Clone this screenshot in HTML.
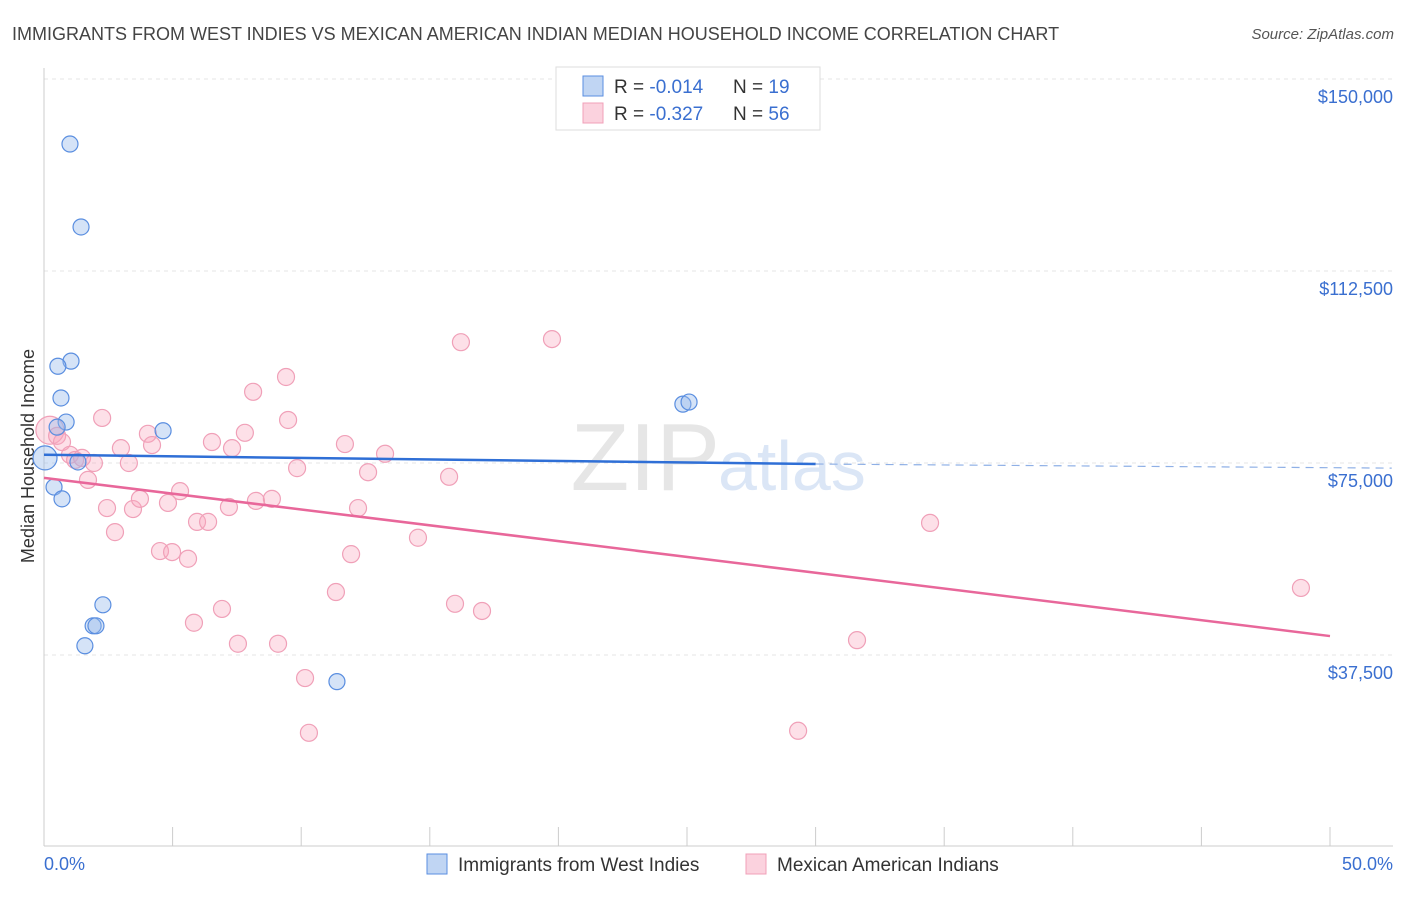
<!DOCTYPE html>
<html><head><meta charset="utf-8"><style>
body{margin:0;background:#fff;font-family:"Liberation Sans",sans-serif}
svg text{font-family:"Liberation Sans",sans-serif}
</style></head><body>
<svg id="c" width="1406" height="892"></svg>
<script>
const blueX=[1.01,1.44,1.05,0.54,0.66,0.86,0.51,4.63,1.32,0.04,0.39,0.70,2.29,1.91,2.02,1.59,11.39,24.84,25.08];
const blueY=[137.3,121.1,94.9,93.9,87.7,83.0,82.0,81.3,75.2,76.0,70.3,68.0,47.3,43.2,43.2,39.3,32.3,86.5,86.9];
const pinkX=[0.23,0.51,0.70,1.01,1.21,1.48,1.94,1.71,2.26,2.99,3.30,2.45,2.76,3.46,3.73,4.04,4.20,4.51,4.98,4.82,5.29,5.60,5.95,6.38,6.53,7.19,7.31,7.81,8.13,8.24,8.86,9.41,9.49,9.84,5.83,6.92,7.54,9.10,10.15,10.30,11.35,11.70,11.94,12.21,12.60,13.26,14.54,15.75,15.98,16.21,17.03,19.75,29.32,31.61,34.45,48.87];
const pinkY=[81.4,80.3,79.1,76.6,75.6,76.0,75.0,71.7,83.8,77.9,75.0,66.2,61.5,66.0,68.0,80.7,78.5,57.8,57.6,67.2,69.5,56.3,63.5,63.5,79.1,66.4,77.9,80.9,88.9,67.6,68.0,91.8,83.4,74.0,43.8,46.5,39.7,39.7,33.0,22.3,49.8,78.7,57.2,66.2,73.2,76.8,60.4,72.3,47.5,98.6,46.1,99.2,22.7,40.4,63.3,50.6];
const yTicks=[150000,112500,75000,37500];
const yTickLabels=["$150,000","$112,500","$75,000","$37,500"];
const blueTrend=[76.6,74.8,74.0]; // at 0, 30, 52.4 %
const pinkTrend=[72.1,41.2]; // at 0, 50 %
const NS="http://www.w3.org/2000/svg";
const svg=document.getElementById('c');
const X=p=>44+p*25.72;
const Y=k=>79+(150-k)/37.5*192;
function el(t,a,p){const e=document.createElementNS(NS,t);for(const k in a)e.setAttribute(k,a[k]);(p||svg).appendChild(e);return e;}
let t=el('text',{x:12,y:40,'font-size':18,fill:'#444'});t.textContent="IMMIGRANTS FROM WEST INDIES VS MEXICAN AMERICAN INDIAN MEDIAN HOUSEHOLD INCOME CORRELATION CHART";

t=el('text',{x:1394,y:39,'font-size':15,fill:'#555','text-anchor':'end','font-style':'italic'});t.textContent="Source: ZipAtlas.com";

yTicks.forEach((v,i)=>{const y=Y(v/1000);
 const g=el('line',{x1:44,x2:1393,y1:y,y2:y,stroke:'#e4e4e4','stroke-dasharray':'4,4'});
 
 const l=el('text',{x:1393,y:y+24,'font-size':18,fill:'#3a6fd0','text-anchor':'end'});l.textContent=yTickLabels[i];
 });
let a=el('line',{x1:44,x2:44,y1:68,y2:846,stroke:'#ccc'});
a=el('line',{x1:44,x2:1393,y1:846,y2:846,stroke:'#ccc'});
for(let i=0;i<=10;i++){const k=el('line',{x1:X(i*5),x2:X(i*5),y1:827,y2:846,stroke:'#ccc'});}
t=el('text',{x:44,y:870,'font-size':18,fill:'#3a6fd0'});t.textContent="0.0%";
t=el('text',{x:1393,y:870,'font-size':18,fill:'#3a6fd0','text-anchor':'end'});t.textContent="50.0%";
t=el('text',{x:34,y:456,'font-size':18,fill:'#333','text-anchor':'middle',transform:'rotate(-90 34 456)'});t.textContent="Median Household Income";
t=el('text',{x:720,y:490,'font-size':96,fill:'#e6e6e6','text-anchor':'end','font-family':'Liberation Serif'});t.textContent="ZIP";
t=el('text',{x:718,y:490,'font-size':70,fill:'#dbe6f6'});t.textContent="atlas";
pinkX.forEach((x,i)=>{const c=el('circle',{cx:X(x),cy:Y(pinkY[i]),r:i==0?14:8.5,fill:'rgba(248,165,190,0.35)',stroke:'#f0a0b8','stroke-width':1.2});
 });
blueX.forEach((x,i)=>{const c=el('circle',{cx:X(x),cy:Y(blueY[i]),r:i==9?12:8,fill:'rgba(150,185,235,0.4)',stroke:'#5a8ee0','stroke-width':1.2});
 });
let l=el('line',{x1:X(0),y1:Y(blueTrend[0]),x2:X(30),y2:Y(blueTrend[1]),stroke:'#2f6fd6','stroke-width':2.5});
l=el('line',{x1:X(30),y1:Y(blueTrend[1]),x2:X(52.4),y2:Y(blueTrend[2]),stroke:'#8fb0e6','stroke-width':1.2,'stroke-dasharray':'8,6'});
l=el('line',{x1:X(0),y1:Y(pinkTrend[0]),x2:X(50),y2:Y(pinkTrend[1]),stroke:'#e8679a','stroke-width':2.5});
// legend
let g=el('g',{});
el('rect',{x:556,y:67,width:264,height:63,fill:'#fff',stroke:'#ddd'},g);
[[86,'rgba(150,185,235,0.6)','#5a8ee0','-0.014','19'],[113,'rgba(248,165,190,0.5)','#f0a0b8','-0.327','56']].forEach(r=>{
 el('rect',{x:583,y:r[0]-10,width:20,height:20,fill:r[1],stroke:r[2]},g);
 const a=el('text',{x:614,y:r[0]+7,'font-size':19,fill:'#333'},g);a.innerHTML='R = <tspan fill="#3a6fd0">'+r[3]+'</tspan>';
 const b=el('text',{x:733,y:r[0]+7,'font-size':19,fill:'#333'},g);b.innerHTML='N = <tspan fill="#3a6fd0">'+(r[4].length<3?' '+r[4]:r[4])+'</tspan>';
 b.setAttribute('xml:space','preserve');});
// bottom legend
[[427,'rgba(150,185,235,0.6)','#5a8ee0','Immigrants from West Indies','legend-west-indies'],[746,'rgba(248,165,190,0.5)','#f0a0b8','Mexican American Indians','legend-mexican-american-indians']].forEach(r=>{
 const gg=el('g',{});
 el('rect',{x:r[0],y:854,width:20,height:20,fill:r[1],stroke:r[2]},gg);
 const tt=el('text',{x:r[0]+31,y:871,'font-size':19,fill:'#333'},gg);tt.textContent=r[3];});
</script>
</body></html>
